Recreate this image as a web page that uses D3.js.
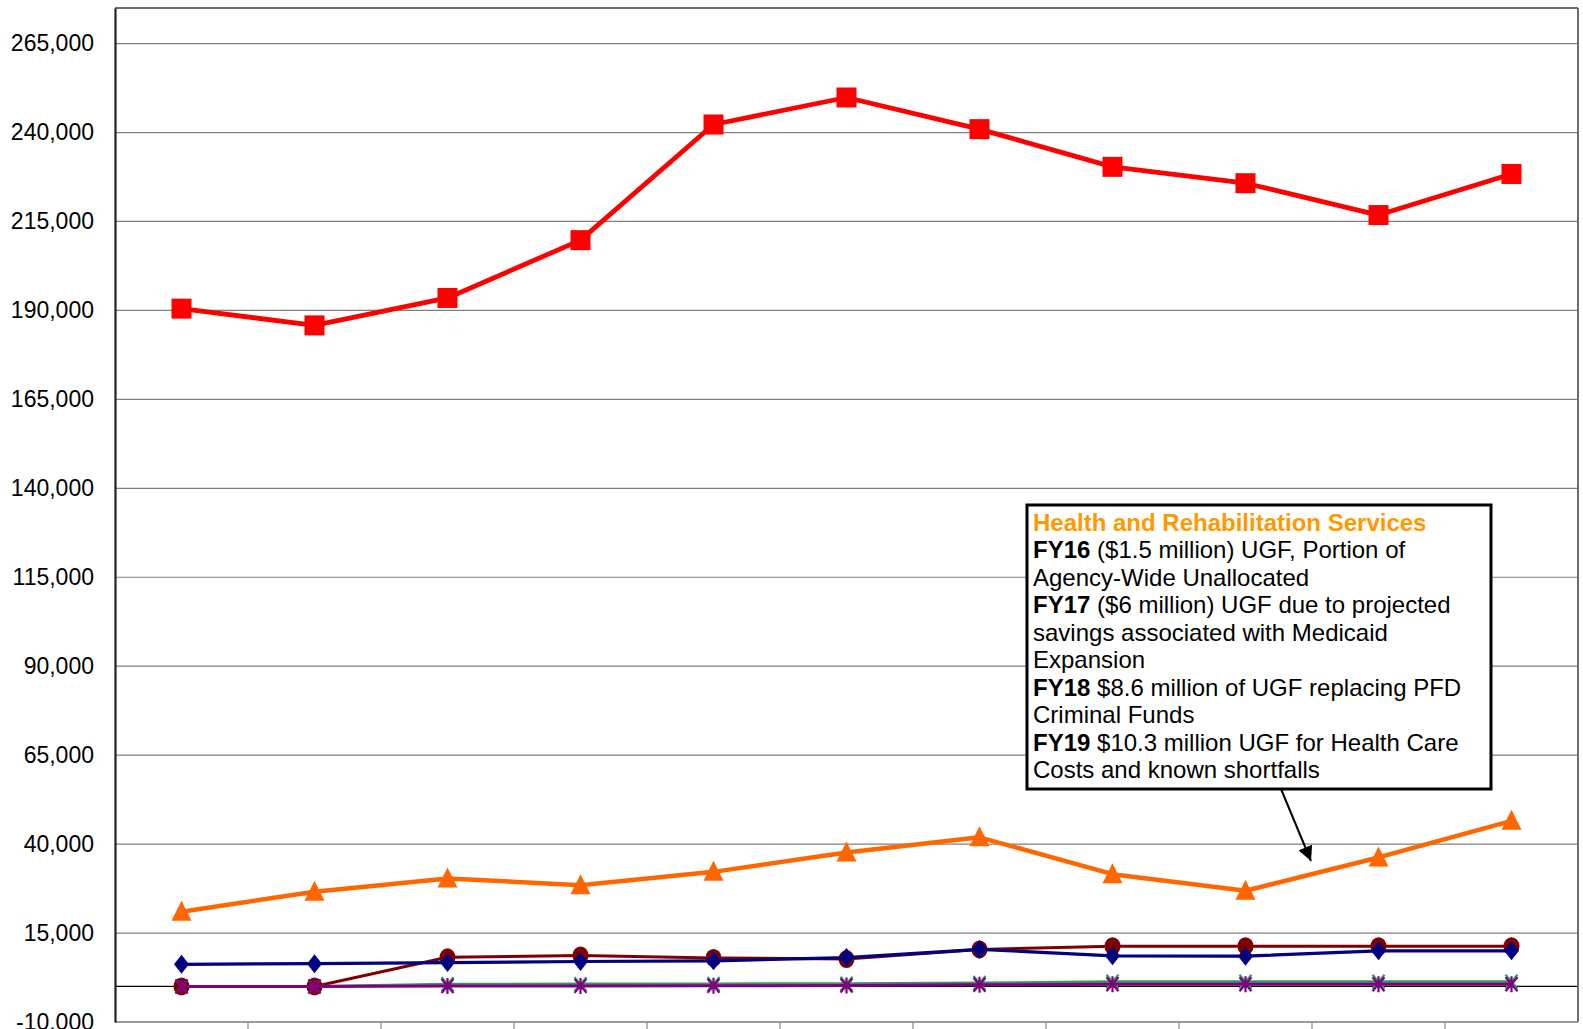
<!DOCTYPE html>
<html>
<head>
<meta charset="utf-8">
<script src="https://cdn.jsdelivr.net/npm/d3@7"></script>
<style>
  html, body { margin: 0; padding: 0; background: #fff; }
  svg { display: block; }
  text { font-family: "Liberation Sans", Arial, sans-serif; }
</style>
</head>
<body>
<svg id="chart" width="1583" height="1029"></svg>
<script>
// ---- data ----
const categories = ["FY09", "FY10", "FY11", "FY12", "FY13", "FY14", "FY15", "FY16", "FY17", "FY18", "FY19"];
const yTickValues = [-10000, 15000, 40000, 65000, 90000, 115000, 140000, 165000, 190000, 215000, 240000, 265000];
const seriesRed = [190500, 185800, 193500, 209750, 242250, 249850, 240950, 230350, 225750, 216800, 228350];
const seriesOrange = [21000, 26600, 30350, 28450, 32200, 37650, 41900, 31550, 26900, 36250, 46550];
const seriesDarkRed = [0, 0, 8200, 8700, 8000, 7700, 10400, 11300, 11300, 11300, 11300];
const seriesNavy = [6200, 6400, 6700, 7000, 7200, 8100, 10400, 8600, 8500, 10000, 10000];
const seriesGreen = [0, 0, 600, 650, 700, 750, 950, 1300, 1300, 1300, 1300];
const seriesPurple = [0, 0, 100, 150, 200, 250, 450, 600, 600, 600, 600];
const annotationTitle = "Health and Rehabilitation Services";
const annotationLines = [
  ["FY16", " ($1.5 million) UGF, Portion of"],
  ["", "Agency-Wide Unallocated"],
  ["FY17", " ($6 million) UGF due to projected"],
  ["", "savings associated with Medicaid"],
  ["", "Expansion"],
  ["FY18", " $8.6 million of UGF replacing PFD"],
  ["", "Criminal Funds"],
  ["FY19", " $10.3 million UGF for Health Care"],
  ["", "Costs and known shortfalls"]
];
const annotationTarget = { category: "FY17", value: 35250 };

// ---- layout ----
const plotLeft = 115, plotRight = 1578, plotTop = 8, plotBottom = 1022;
const svg = d3.select("#chart");

const x = d3.scaleBand().domain(categories).range([plotLeft, plotRight]).padding(0);
const y = d3.scaleLinear().domain([-10000, 275000]).range([plotBottom, plotTop]);
const cx = c => x(c) + x.bandwidth() / 2;

// gridlines
svg.append("g").selectAll("line")
  .data(yTickValues.filter(v => v > -10000))
  .join("line")
  .attr("x1", plotLeft).attr("x2", plotRight)
  .attr("y1", d => y(d)).attr("y2", d => y(d))
  .attr("stroke", "#7f7f7f").attr("stroke-width", 1.2);

// zero line
svg.append("line")
  .attr("x1", plotLeft).attr("x2", plotRight)
  .attr("y1", y(0)).attr("y2", y(0))
  .attr("stroke", "#000").attr("stroke-width", 1.2);

// plot frame
svg.append("line").attr("x1", plotLeft).attr("x2", plotRight).attr("y1", plotTop).attr("y2", plotTop)
  .attr("stroke", "#6e6e6e").attr("stroke-width", 2);
svg.append("line").attr("x1", plotRight).attr("x2", plotRight).attr("y1", plotTop).attr("y2", plotBottom)
  .attr("stroke", "#6e6e6e").attr("stroke-width", 2);
svg.append("line").attr("x1", plotLeft).attr("x2", plotRight).attr("y1", plotBottom).attr("y2", plotBottom)
  .attr("stroke", "#9a9a9a").attr("stroke-width", 2);

// x ticks at category boundaries
svg.append("g").selectAll("line")
  .data(categories.slice(1))
  .join("line")
  .attr("x1", d => x(d)).attr("x2", d => x(d))
  .attr("y1", plotBottom).attr("y2", plotBottom + 10)
  .attr("stroke", "#8a8a8a").attr("stroke-width", 1.2);

// y axis
const fmt = v => d3.format(",")(v).replace("\u2212", "-");
const yAxis = svg.append("g")
  .attr("transform", `translate(${plotLeft},0)`)
  .call(d3.axisLeft(y).tickValues(yTickValues).tickSize(0).tickPadding(21).tickFormat(fmt));
yAxis.select(".domain").attr("stroke", "#222").attr("stroke-width", 2.2);
yAxis.selectAll("text")
  .attr("font-size", 23)
  .attr("fill", "#000")
  .style("font-family", '"Liberation Sans", Arial, sans-serif');

// ---- series ----
const line = d3.line().x((d, i) => cx(categories[i])).y(d => y(d));

function drawSeries(values, color, width, marker) {
  svg.append("path")
    .datum(values)
    .attr("d", line)
    .attr("fill", "none")
    .attr("stroke", color)
    .attr("stroke-width", width)
    .attr("stroke-linejoin", "round");
  const g = svg.append("g");
  values.forEach((v, i) => {
    marker(g, cx(categories[i]), y(v), color);
  });
}

const square = (g, px, py, c) => g.append("rect")
  .attr("x", px - 10).attr("y", py - 10).attr("width", 20).attr("height", 20).attr("fill", c);
const triangle = (g, px, py, c) => g.append("path")
  .attr("d", `M${px},${py - 11} L${px + 10},${py + 9} L${px - 10},${py + 9} Z`).attr("fill", c);
const circle = (g, px, py, c) => g.append("ellipse")
  .attr("cx", px).attr("cy", py).attr("rx", 8).attr("ry", 9).attr("fill", c);
const diamond = (g, px, py, c) => g.append("path")
  .attr("d", `M${px},${py - 9.5} L${px + 7.5},${py} L${px},${py + 9.5} L${px - 7.5},${py} Z`).attr("fill", c);
const cross = (g, px, py, c) => g.append("path")
  .attr("d", `M${px - 6},${py - 7} L${px + 6},${py + 7} M${px + 6},${py - 7} L${px - 6},${py + 7}`)
  .attr("stroke", c).attr("stroke-width", 2.2).attr("fill", "none");
const star = (g, px, py, c) => g.append("path")
  .attr("d", `M${px - 6},${py - 7} L${px + 6},${py + 7} M${px + 6},${py - 7} L${px - 6},${py + 7} M${px},${py - 8} L${px},${py + 8}`)
  .attr("stroke", c).attr("stroke-width", 2.2).attr("fill", "none");

drawSeries(seriesRed, "#ff0000", 4.8, square);
drawSeries(seriesOrange, "#ff6600", 4.5, triangle);
drawSeries(seriesDarkRed, "#800000", 3, circle);
drawSeries(seriesNavy, "#000080", 3.2, diamond);
drawSeries(seriesGreen, "#339966", 3, cross);
drawSeries(seriesPurple, "#800080", 3, star);

// ---- annotation ----
const boxX = 1027, boxY = 505, boxW = 464, boxH = 284;
svg.append("defs").append("marker")
  .attr("id", "arrowhead")
  .attr("viewBox", "0 0 10 10")
  .attr("refX", 10).attr("refY", 5)
  .attr("markerWidth", 7.5).attr("markerHeight", 7.3)
  .attr("markerUnits", "strokeWidth")
  .attr("orient", "auto")
  .append("path").attr("d", "M0,0 L10,5 L0,10 Z").attr("fill", "#000");

const tx = cx(annotationTarget.category) + 65.5;
svg.append("line")
  .attr("x1", 1281).attr("y1", boxY + boxH)
  .attr("x2", tx).attr("y2", y(annotationTarget.value))
  .attr("stroke", "#000").attr("stroke-width", 2)
  .attr("marker-end", "url(#arrowhead)");

svg.append("rect")
  .attr("x", boxX).attr("y", boxY).attr("width", boxW).attr("height", boxH)
  .attr("fill", "#fff").attr("stroke", "#000").attr("stroke-width", 3);

const txt = svg.append("text").attr("font-size", 24).attr("fill", "#000");
txt.append("tspan").attr("x", boxX + 6).attr("y", 530.5)
  .attr("font-weight", "bold").attr("fill", "#ff9900").text(annotationTitle);
annotationLines.forEach((ln, i) => {
  const t = txt.append("tspan").attr("x", boxX + 6).attr("y", 530.5 + (i + 1) * 27.5);
  if (ln[0]) {
    t.attr("font-weight", "bold").text(ln[0]);
    txt.append("tspan").attr("font-weight", "normal").text(ln[1]);
  } else {
    t.text(ln[1]);
  }
});
</script>
</body>
</html>
